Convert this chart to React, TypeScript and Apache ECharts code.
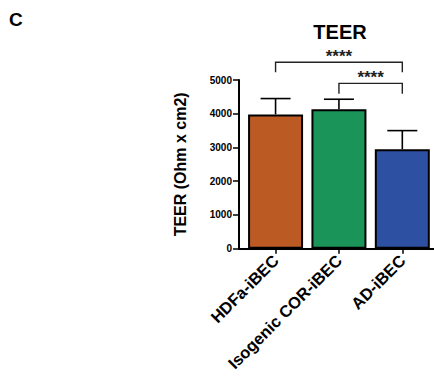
import React, { useEffect, useRef } from "react";
import * as echarts from "echarts";

const categories = ["HDFa-iBEC", "Isogenic COR-iBEC", "AD-iBEC"];
const means = [3980, 4130, 2950];
const errTops = [4450, 4430, 3500];
const barColors = ["#BC5A24", "#1A9458", "#2E50A2"];
const yMax = 5000;
const yStep = 1000;
const compFrom = [0, 1];
const compTo = [2, 2];
const compLine = [5525, 4900];
const compDrop = [5230, 4590];
const compLabel = ["****", "****"];

const FONT = "'Liberation Sans', Arial, Helvetica, sans-serif";

export default function App() {
  const ref = useRef<HTMLDivElement>(null);
  useEffect(() => {
    if (!ref.current) return;
    const chart = echarts.init(ref.current, undefined, { renderer: "svg" });
    const catIdx = categories.map((_, i) => i);
    chart.setOption({
      animation: false,
      textStyle: { fontFamily: FONT },
      graphic: [
        {
          type: "text",
          x: 9,
          y: 19,
          style: { text: "C", font: `bold 19px ${FONT}`, fill: "#000", align: "left", verticalAlign: "middle" },
        },
        {
          type: "text",
          x: 340,
          y: 32,
          style: { text: "TEER", font: `bold 20px ${FONT}`, fill: "#000", align: "center", verticalAlign: "middle" },
        },
      ],
      grid: { left: 239, top: 80, width: 200, bottom: 130.3, containLabel: false },
      xAxis: {
        type: "value",
        min: -0.577,
        max: 2.5,
        splitLine: { show: false },
        axisLine: { show: true, onZero: false, lineStyle: { color: "#000", width: 2 } },
        axisTick: { show: true, customValues: catIdx, length: 5, lineStyle: { color: "#000", width: 1.5 } },
        axisLabel: {
          customValues: catIdx,
          rotate: 45,
          margin: 9,
          formatter: (v: number) => categories[Math.round(v)] ?? "",
          fontSize: 16.5,
          fontWeight: "bold",
          fontFamily: FONT,
          color: "#000",
        },
      },
      yAxis: {
        type: "value",
        min: 0,
        max: yMax,
        interval: yStep,
        name: "TEER (Ohm x cm2)",
        nameLocation: "middle",
        nameRotate: 90,
        nameGap: 51,
        nameTextStyle: { fontSize: 16, fontWeight: "bold", fontFamily: FONT, color: "#000" },
        splitLine: { show: false },
        axisLine: { show: true, onZero: false, lineStyle: { color: "#000", width: 2 } },
        axisTick: { show: true, length: 6, lineStyle: { color: "#000", width: 1.5 } },
        axisLabel: {
          margin: 7,
          fontSize: 10,
          fontWeight: "bold",
          fontFamily: FONT,
          color: "#000",
          formatter: (v: number) => String(v),
        },
      },
      series: [
        {
          type: "bar",
          barWidth: 55,
          data: means.map((v, i) => ({ value: [i, v], itemStyle: { color: barColors[i] } })),
          itemStyle: { borderColor: "#000", borderWidth: 2 },
          z: 3,
        },
        {
          type: "custom",
          clip: false,
          z: 2,
          encode: { x: 0, y: [1, 2] },
          data: means.map((m, i) => [i, m, errTops[i]]),
          renderItem: (params: any, api: any) => {
            const base = api.coord([api.value(0), api.value(1)]);
            const top = api.coord([api.value(0), api.value(2)]);
            const style = { stroke: "#000", lineWidth: 1.6 };
            return {
              type: "group",
              children: [
                { type: "line", shape: { x1: base[0], y1: base[1], x2: top[0], y2: top[1] }, style },
                { type: "line", shape: { x1: top[0] - 15, y1: top[1], x2: top[0] + 15, y2: top[1] }, style },
              ],
            };
          },
        },
        {
          type: "custom",
          clip: false,
          z: 4,
          encode: { x: [0, 1], y: [2, 3] },
          data: compFrom.map((f, i) => [f, compTo[i], compLine[i], compDrop[i]]),
          renderItem: (params: any, api: any) => {
            const a = api.coord([api.value(0), api.value(2)]);
            const b = api.coord([api.value(1), api.value(2)]);
            const d = api.coord([api.value(0), api.value(3)]);
            return {
              type: "group",
              children: [
                {
                  type: "polyline",
                  shape: { points: [[a[0], d[1]], [a[0], a[1]], [b[0], b[1]], [b[0], d[1]]] },
                  style: { stroke: "#222", lineWidth: 1.4, fill: null },
                },
                {
                  type: "text",
                  x: (a[0] + b[0]) / 2,
                  y: a[1] - 5.5,
                  style: {
                    text: compLabel[params.dataIndex],
                    font: `bold 17px ${FONT}`,
                    fill: "#222",
                    align: "center",
                    verticalAlign: "middle",
                  },
                },
              ],
            };
          },
        },
      ],
    });
    return () => chart.dispose();
  }, []);
  return (
    <div
      ref={ref}
      style={{ position: "absolute", left: 0, top: 0, width: 434, height: 379, background: "#fff" }}
    />
  );
}
